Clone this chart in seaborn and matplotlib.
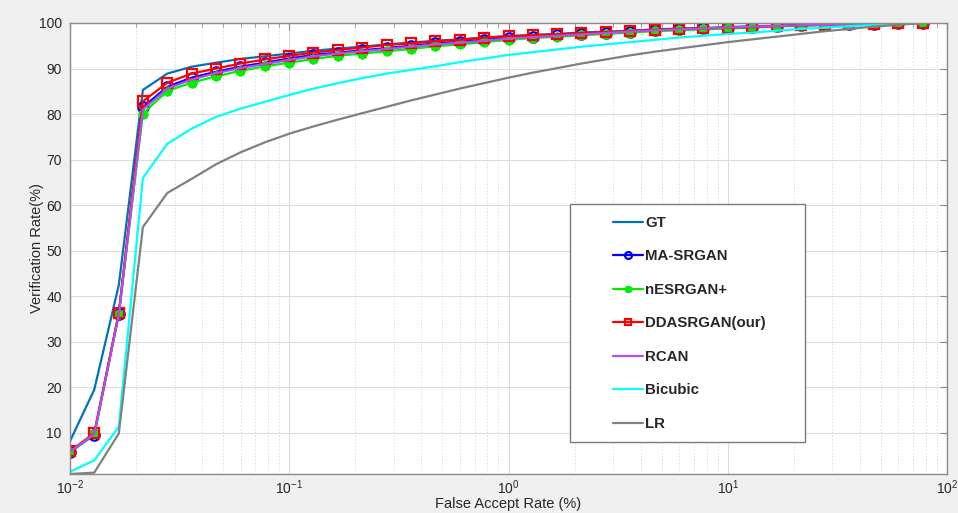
import matplotlib
matplotlib.use("Agg")
import matplotlib.pyplot as plt
import seaborn as sns
import numpy as np
import pandas as pd
from matplotlib.patches import Rectangle
from matplotlib.ticker import LogLocator, NullFormatter, FixedLocator

# ---------------- data ----------------
far = [0.0100, 0.0129, 0.0167, 0.0215, 0.0278, 0.0359, 0.0464, 0.0599, 0.0774,
       0.100, 0.129, 0.167, 0.215, 0.278, 0.359, 0.464, 0.599, 0.774,
       1.00, 1.29, 1.67, 2.15, 2.78, 3.59, 4.64, 5.99, 7.74,
       10.0, 12.9, 16.7, 21.5, 27.8, 35.9, 46.4, 59.9, 77.4]

gt = [8.2, 19.5, 42.5, 85.3, 88.9, 90.4, 91.3, 92.1, 92.7, 93.3, 93.9, 94.4,
      94.8, 95.3, 95.7, 96.1, 96.4, 96.8, 97.1, 97.4, 97.6, 97.9, 98.1, 98.3,
      98.6, 98.8, 98.9, 99.1, 99.3, 99.4, 99.5, 99.7, 99.8, 99.85, 99.9, 100.0]
ma_srgan = [5.8, 9.6, 36.2, 81.5, 86.0, 88.0, 89.3, 90.4, 91.3, 92.2, 93.0, 93.5,
            94.0, 94.5, 95.0, 95.5, 95.9, 96.3, 96.7, 97.0, 97.3, 97.6, 97.9, 98.1,
            98.4, 98.6, 98.8, 98.9, 99.1, 99.3, 99.5, 99.6, 99.8, 99.85, 99.9, 100.0]
nesrgan = [5.8, 9.7, 36.2, 80.1, 85.1, 86.9, 88.3, 89.5, 90.5, 91.3, 92.1, 92.8,
           93.3, 93.8, 94.3, 94.9, 95.3, 95.8, 96.3, 96.7, 97.0, 97.3, 97.6, 97.9,
           98.2, 98.4, 98.6, 98.8, 99.0, 99.2, 99.4, 99.6, 99.7, 99.8, 99.9, 100.0]
ddasrgan = [6.0, 10.0, 36.4, 82.8, 86.9, 88.9, 90.0, 91.1, 92.0, 92.8, 93.5, 94.1,
            94.6, 95.2, 95.5, 96.0, 96.3, 96.8, 97.1, 97.3, 97.5, 97.8, 98.0, 98.2,
            98.5, 98.7, 98.8, 99.0, 99.1, 99.3, 99.5, 99.6, 99.8, 99.85, 99.9, 100.0]
rcan = [5.9, 9.8, 36.0, 81.0, 85.6, 87.6, 89.0, 90.1, 91.0, 91.9, 92.7, 93.3,
        93.8, 94.3, 94.8, 95.3, 95.7, 96.1, 96.6, 96.9, 97.2, 97.5, 97.8, 98.1,
        98.4, 98.6, 98.8, 99.0, 99.2, 99.3, 99.5, 99.6, 99.8, 99.85, 99.9, 100.0]
bicubic = [1.5, 4.0, 11.4, 66.0, 73.5, 76.8, 79.4, 81.2, 82.7, 84.2, 85.6, 86.8,
           87.9, 88.9, 89.7, 90.5, 91.4, 92.2, 93.0, 93.6, 94.2, 94.8, 95.3, 95.8,
           96.3, 96.8, 97.2, 97.6, 97.9, 98.3, 98.7, 99.0, 99.3, 99.6, 99.8, 100.0]
lr = [1.0, 1.3, 9.9, 55.2, 62.7, 65.8, 69.0, 71.6, 73.8, 75.7, 77.3, 78.8,
      80.2, 81.6, 83.0, 84.3, 85.6, 86.8, 88.0, 89.1, 90.1, 91.1, 92.0, 92.9,
      93.7, 94.4, 95.1, 95.8, 96.4, 97.0, 97.6, 98.2, 98.7, 99.2, 99.6, 100.0]

labels = ["GT", "MA-SRGAN", "nESRGAN+", "DDASRGAN(our)", "RCAN", "Bicubic", "LR"]
series = [gt, ma_srgan, nesrgan, ddasrgan, rcan, bicubic, lr]
xticks = [1e-2, 1e-1, 1e0, 1e1, 1e2]
xticklabels = ["$10^{-2}$", "$10^{-1}$", "$10^{0}$", "$10^{1}$", "$10^{2}$"]
yticks = [10, 20, 30, 40, 50, 60, 70, 80, 90, 100]

# ---------------- style ----------------
sns.set_style("white")
plt.rcParams['font.family'] = ['Liberation Sans', 'DejaVu Sans']
plt.rcParams['mathtext.fontset'] = 'custom'
plt.rcParams['mathtext.rm'] = 'Liberation Sans'
plt.rcParams['mathtext.it'] = 'Liberation Sans:italic'

styles = {
    "GT": dict(color="#0072BD", marker=None),
    "MA-SRGAN": dict(color="#0000FF", marker="o", ms=7.5, mfc="none", mew=1.6),
    "nESRGAN+": dict(color="#00EE00", marker=(8, 2, 0), ms=7, mew=2.0),
    "DDASRGAN(our)": dict(color="#FF0000", marker="s", ms=7.5, mfc="none", mew=1.6),
    "RCAN": dict(color="#B44DF0", marker=None),
    "Bicubic": dict(color="#00FFFF", marker=None),
    "LR": dict(color="#808080", marker=None),
}

fig = plt.figure(figsize=(9.58, 5.13), dpi=100, facecolor="#f0f0f0")
ax = fig.add_axes([70/958, 1-474/513, 877/958, 451/513])
ax.set_facecolor("white")

df = pd.DataFrame({"far": np.tile(far, len(labels)),
                   "vr": np.concatenate(series),
                   "method": np.repeat(labels, len(far))})

for lab in labels:
    st = styles[lab]
    sub = df[df["method"] == lab]
    kw = dict(lw=1.6, color=st["color"])
    if st["marker"] is not None:
        kw.update(marker=st["marker"], markersize=st["ms"], markeredgewidth=st["mew"],
                  markeredgecolor=st["color"])
        if "mfc" in st:
            kw.update(markerfacecolor=st["mfc"])
    sns.lineplot(data=sub, x="far", y="vr", ax=ax, label=lab, sort=False,
                 estimator=None, **kw)

ax.set_xscale("log")
ax.set_xlim(1e-2, 1e2)
ax.set_ylim(1, 100)
ax.xaxis.set_major_locator(FixedLocator(xticks))
ax.set_xticklabels(xticklabels)
ax.xaxis.set_minor_locator(LogLocator(base=10, subs=np.arange(2, 10), numticks=20))
ax.xaxis.set_minor_formatter(NullFormatter())
ax.set_yticks(yticks)

ax.grid(True, which="major", color="#dcdcdc", lw=0.8, ls="-")
ax.grid(True, which="minor", axis="x", color="#dcdcdc", lw=0.7, ls=(0, (1.5, 2)))
ax.set_axisbelow(True)

for sp in ax.spines.values():
    sp.set_color("#8a8a8a")
    sp.set_linewidth(1.0)
ax.tick_params(which="both", direction="in", top=True, right=True,
               colors="#8a8a8a", labelcolor="#262626", labelsize=10)
ax.tick_params(which="major", length=5)
ax.tick_params(which="minor", length=3)
ax.tick_params(axis="x", pad=3)
ax.tick_params(axis="y", pad=6)

ax.set_xlabel("False Accept Rate (%)", fontsize=10.5, color="#262626", labelpad=0)
ax.set_ylabel("Verification Rate(%)", fontsize=10.5, color="#262626")
ax.yaxis.set_label_coords((44 - 70) / 877, 0.5)

# legend box
ax.add_patch(Rectangle((570/958, 1-442/513), 235/958, 238/513, transform=fig.transFigure,
                       facecolor="white", edgecolor="#7a7a7a", lw=1.0, zorder=4.5,
                       clip_on=False))
leg = ax.legend(loc="upper left", bbox_to_anchor=(613/958, 1-216/513),
                bbox_transform=fig.transFigure, frameon=False, borderpad=0,
                borderaxespad=0, handlelength=2.0, handletextpad=0.15,
                labelspacing=1.3, prop=dict(weight="bold", size=10.8))
leg.set_zorder(5)
for h in leg.legend_handles:
    if h.get_marker() not in (None, "None", ""):
        h.set_markersize(5)

fig.savefig("out.png", dpi=100, facecolor=fig.get_facecolor())
